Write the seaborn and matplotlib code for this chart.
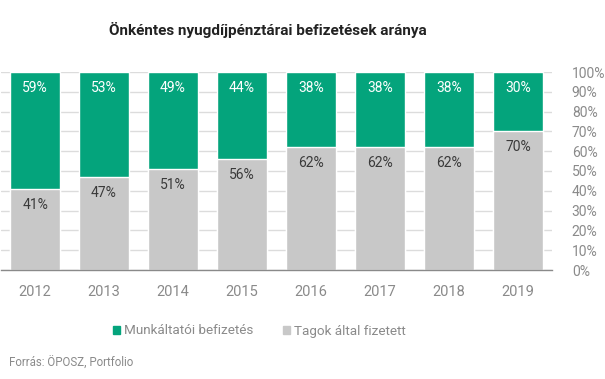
import matplotlib
matplotlib.use("Agg")
import matplotlib.pyplot as plt
import matplotlib.patches as mpatches
import seaborn as sns
import pandas as pd

sns.set_theme(style="white")
plt.rcParams['font.family'] = ['Roboto', 'DejaVu Sans']

years = ['2012', '2013', '2014', '2015', '2016', '2017', '2018', '2019']
munkaltatoi = [59, 53, 49, 44, 38, 38, 38, 30]
tagok = [41, 47, 51, 56, 62, 62, 62, 70]
yticks = [0, 10, 20, 30, 40, 50, 60, 70, 80, 90, 100]

green = '#04a47c'
grey = '#c8c8c8'

df = pd.DataFrame({'ev': years, 'munk': munkaltatoi, 'tagok': tagok})
df['total'] = df['munk'] + df['tagok']

fig = plt.figure(figsize=(6.05, 3.79), dpi=100)
ax = fig.add_axes([0.001, 1 - 270 / 379, 0.912, 198 / 379])

# stacked: full height in green, members' share drawn on top in grey
sns.barplot(data=df, x='ev', y='total', color=green, width=0.72, ax=ax,
            saturation=1, zorder=2)
sns.barplot(data=df, x='ev', y='tagok', color=grey, width=0.72, ax=ax,
            saturation=1, zorder=2)

for i, row in df.iterrows():
    ax.annotate(f"{row['munk']}%", (i, row['total']), xytext=(0, -16),
                textcoords='offset pixels', ha='center', va='center',
                color='white', fontsize=10)
    ax.annotate(f"{row['tagok']}%", (i, row['tagok']), xytext=(0, -16),
                textcoords='offset pixels', ha='center', va='center',
                color='#3a3a3a', fontsize=10)

ax.set_ylim(0, 100)
ax.set_xlim(-0.5, len(years) - 0.5)
ax.set_yticks(yticks)
ax.set_yticklabels([f"{v}%" for v in yticks])
ax.yaxis.tick_right()
ax.tick_params(axis='y', length=0, pad=14, labelsize=10, labelcolor='#8a8a8a')
for lbl in ax.get_yticklabels():
    lbl.set_horizontalalignment('left')
ax.tick_params(axis='x', length=0, pad=11, labelsize=10.5, labelcolor='#8a8a8a')
ax.set_xlabel('')
ax.set_ylabel('')
ax.grid(axis='y', color='#dcdcdc', linewidth=1, zorder=0)
ax.set_axisbelow(True)
for side in ['top', 'left', 'right']:
    ax.spines[side].set_visible(False)
ax.spines['bottom'].set_color('#8a8a8a')
ax.spines['bottom'].set_linewidth(1)
ax.spines['bottom'].set_zorder(3)

fig.text(268 / 605, 1 - 30 / 379, 'Önkéntes nyugdíjpénztárai befizetések aránya',
         ha='center', va='center', fontsize=11, fontweight='bold', color='#222222')

handles = [mpatches.Patch(color=green, label='Munkáltatói befizetés'),
           mpatches.Patch(color=grey, label='Tagok által fizetett')]
fig.legend(handles=handles, loc='center left', bbox_to_anchor=(113 / 605, 1 - 331 / 379),
           ncol=2, frameon=False, fontsize=9.7, labelcolor='#8a8a8a',
           borderpad=0, borderaxespad=0,
           handlelength=0.5, handleheight=0.5, handletextpad=0.3, columnspacing=2.2)

fig.text(9 / 605, 1 - 363 / 379, 'Forrás: ÖPOSZ, Portfolio', ha='left', va='center',
         fontsize=8.3, color='#8a8a8a')

fig.savefig('out.png', dpi=100)
